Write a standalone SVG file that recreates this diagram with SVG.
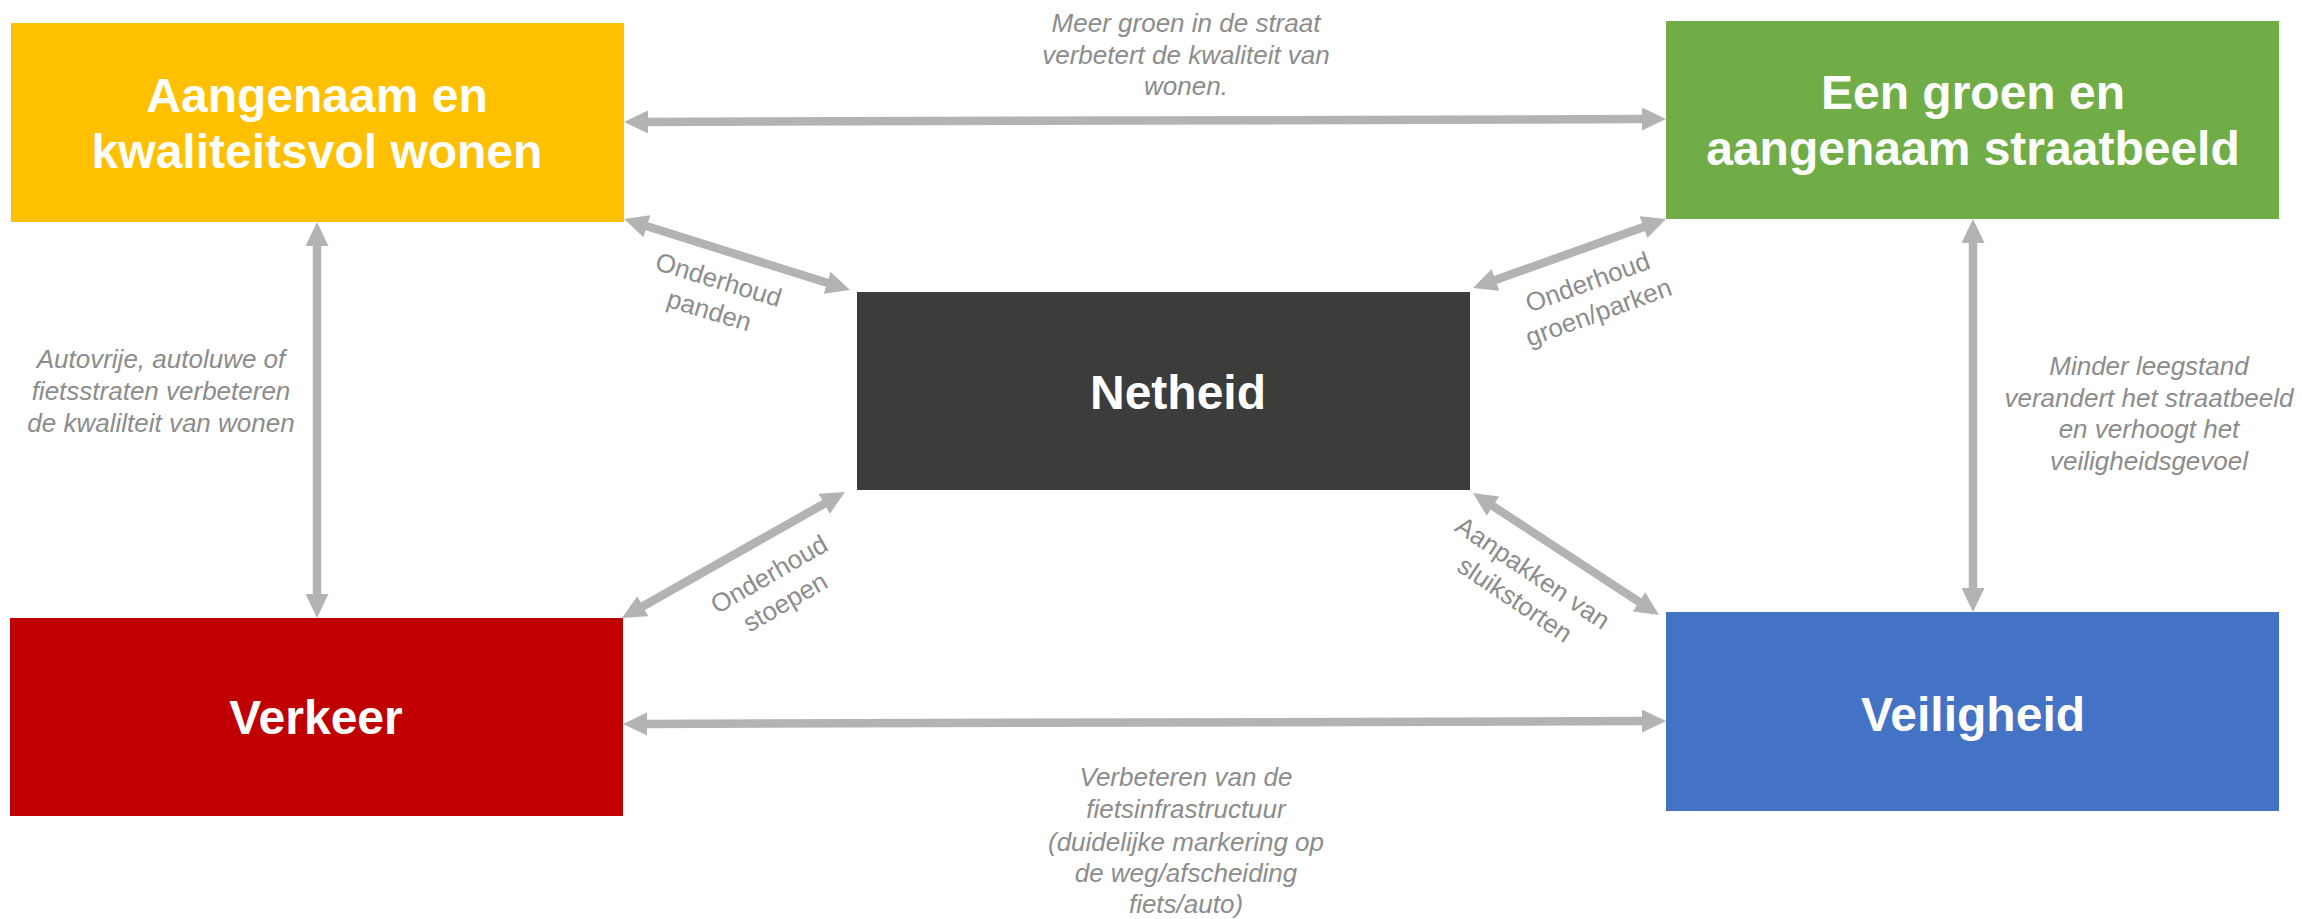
<svg xmlns="http://www.w3.org/2000/svg" width="2302" height="919" viewBox="0 0 2302 919">
<style>
.box-text{font-family:"Liberation Sans",Arial,sans-serif;font-weight:bold;font-size:48px;fill:#ffffff;text-anchor:middle}
.lbl{font-family:"Liberation Sans",Arial,sans-serif;font-style:italic;font-size:26px;fill:#8c8c8c;text-anchor:middle}
.dlbl{font-family:"Liberation Sans",Arial,sans-serif;font-size:26px;fill:#8c8c8c;text-anchor:middle}
.conn{stroke:#b3b3b3;stroke-width:8.5;fill:none;marker-start:url(#ah);marker-end:url(#ah)}
</style>
<defs>
<marker id="ah" markerUnits="userSpaceOnUse" markerWidth="24" markerHeight="23" refX="4" refY="11.5" orient="auto-start-reverse" viewBox="0 0 24 23">
<path d="M0,0 L24,11.5 L0,23 z" fill="#b3b3b3"/>
</marker>
</defs>
<rect width="2302" height="919" fill="#ffffff"/>
<g id="connectors">
<line class="conn" x1="644" y1="121.94" x2="1646" y2="119.06"/>
<line class="conn" x1="643" y1="723.94" x2="1646" y2="721.06"/>
<line class="conn" x1="317" y1="242" x2="317" y2="598"/>
<line class="conn" x1="1973" y1="239" x2="1973" y2="592"/>
<line class="conn" x1="643.1" y1="225" x2="830.9" y2="284"/>
<line class="conn" x1="1491.8" y1="281.3" x2="1647.2" y2="225.7"/>
<line class="conn" x1="827.6" y1="501.8" x2="639.4" y2="608.2"/>
<line class="conn" x1="1489.7" y1="504" x2="1642.3" y2="604"/>
</g>
<g id="labels">
<text class="lbl" x="1186" y="32">Meer groen in de straat</text>
<text class="lbl" x="1186" y="64">verbetert de kwaliteit van</text>
<text class="lbl" x="1186" y="95">wonen.</text>
<text class="lbl" x="161" y="368">Autovrije, autoluwe of</text>
<text class="lbl" x="161" y="400">fietsstraten verbeteren</text>
<text class="lbl" x="161" y="432">de kwalilteit van wonen</text>
<text class="lbl" x="2149" y="375">Minder leegstand</text>
<text class="lbl" x="2149" y="407">verandert het straatbeeld</text>
<text class="lbl" x="2149" y="438">en verhoogt het</text>
<text class="lbl" x="2149" y="470">veiligheidsgevoel</text>
<text class="lbl" x="1186" y="786">Verbeteren van de</text>
<text class="lbl" x="1186" y="818">fietsinfrastructuur</text>
<text class="lbl" x="1186" y="851">(duidelijke markering op</text>
<text class="lbl" x="1186" y="882">de weg/afscheiding</text>
<text class="lbl" x="1186" y="913">fiets/auto)</text>
<g transform="translate(714,295) rotate(17)">
<text class="dlbl" x="0" y="-7">Onderhoud</text>
<text class="dlbl" x="0" y="25">panden</text>
</g>
<g transform="translate(777,588) rotate(-30)">
<text class="dlbl" x="0" y="-7">Onderhoud</text>
<text class="dlbl" x="0" y="25">stoepen</text>
</g>
<g transform="translate(1593,297) rotate(-20)">
<text class="dlbl" x="0" y="-7">Onderhoud</text>
<text class="dlbl" x="0" y="25">groen/parken</text>
</g>
<g transform="translate(1524,586) rotate(34)">
<text class="dlbl" x="0" y="-7">Aanpakken van</text>
<text class="dlbl" x="0" y="25">sluikstorten</text>
</g>
</g>
<g id="node-wonen">
<rect x="11" y="23" width="613" height="199" fill="#ffc000"/>
<text class="box-text" x="317" y="112">Aangenaam en</text>
<text class="box-text" x="317" y="168">kwaliteitsvol wonen</text>
</g>
<g id="node-straatbeeld">
<rect x="1666" y="21" width="613" height="198" fill="#70ad47"/>
<text class="box-text" x="1973" y="109">Een groen en</text>
<text class="box-text" x="1973" y="165">aangenaam straatbeeld</text>
</g>
<g id="node-netheid">
<rect x="857" y="292" width="613" height="198" fill="#3c3c3b"/>
<text class="box-text" x="1178" y="409">Netheid</text>
</g>
<g id="node-verkeer">
<rect x="10" y="618" width="613" height="198" fill="#c00000"/>
<text class="box-text" x="316" y="734">Verkeer</text>
</g>
<g id="node-veiligheid">
<rect x="1666" y="612" width="613" height="199" fill="#4472c4"/>
<text class="box-text" x="1973" y="731">Veiligheid</text>
</g>
</svg>
